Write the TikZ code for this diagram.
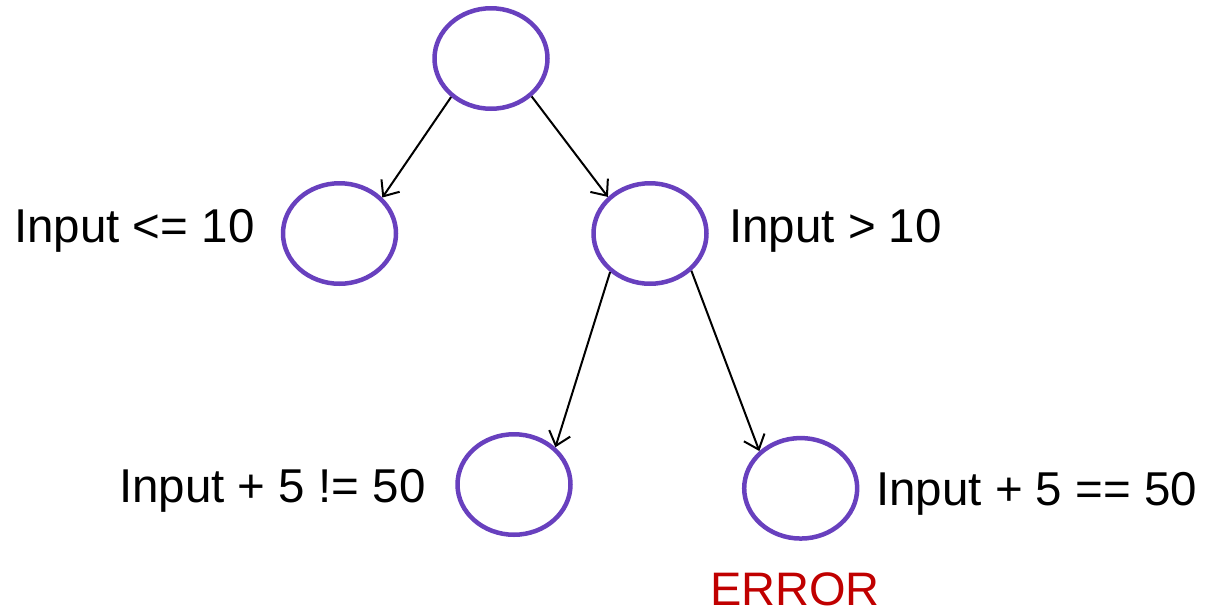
\documentclass[tikz,border=0pt]{standalone}
\usepackage{fontspec}
\setmainfont{Liberation Sans}
\usetikzlibrary{shapes.geometric,arrows.meta}
\definecolor{nodepurple}{RGB}{104,64,190}
\definecolor{errred}{RGB}{192,0,0}
\begin{document}
\begin{tikzpicture}[x=1pt,y=-1pt,
  state/.style={ellipse,draw=nodepurple,line width=4.5pt,minimum width=113pt,minimum height=100.5pt,inner sep=0pt},
  lbl/.style={anchor=base west,inner sep=0pt,font=\fontsize{47.5}{50}\selectfont},
  edge/.style={line width=2pt,-{Straight Barb[length=13pt,width=22pt,line width=2pt]}}]
\useasboundingbox (0,0) rectangle (1207,614);
\node[state] (top) at (491,58.5) {};
\node[state] (lm) at (339.5,233.5) {};
\node[state] (rm) at (650,233.5) {};
\node[state] (bl) at (514,484.5) {};
\node[state] (br) at (800.7,488.3) {};
\node[lbl] (t1) at (14,242) {Input <= 10};
\node[lbl] (t2) at (729,242) {Input > 10};
\node[lbl] (t3) at (119,502) {Input + 5 != 50};
\node[lbl] (t4) at (876,505) {Input + 5 == 50};
\node[lbl,text=errred,font=\fontsize{47}{50}\selectfont] (t5) at (710,605.5) {ERROR};
\draw[edge] (top.224) -- (lm.40);
\draw[edge] (top.317) -- (rm.139);
\draw[edge] (rm.224) -- (bl.42);
\draw[edge] (rm.318) -- (br.138);
\end{tikzpicture}
\end{document}
